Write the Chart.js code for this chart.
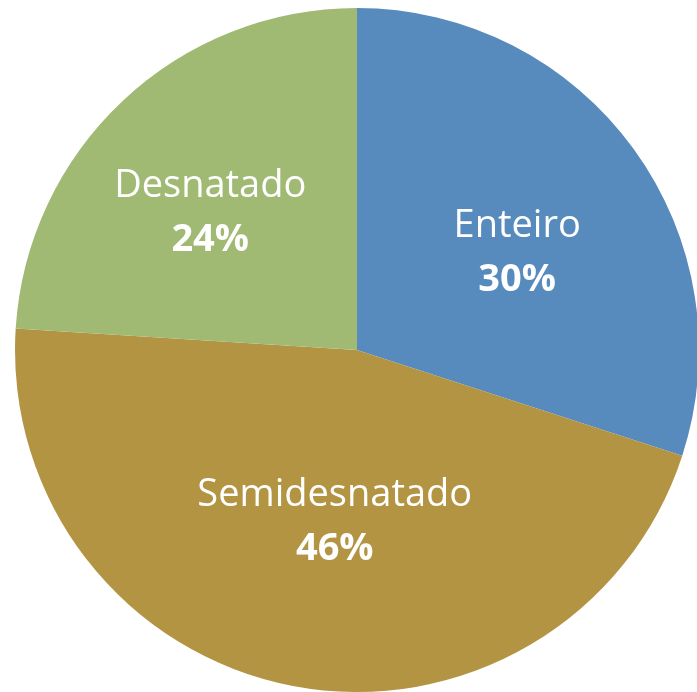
<!DOCTYPE html>
<html>
<head>
<meta charset="utf-8">
<script src="https://cdn.jsdelivr.net/npm/chart.js@4"></script>
<style>
  html, body { margin: 0; padding: 0; background: #fff; overflow: hidden; }
  #wrap { position: absolute; left: 0; top: 0; width: 700px; height: 692px; }
</style>
</head>
<body>
<div id="wrap"><canvas id="grafico_leite" width="700" height="692"></canvas></div>
<script>
const categorias = ['Enteiro', 'Semidesnatado', 'Desnatado'];
const percentuais = [30, 46, 24];
const cores = ['rgb(88, 139, 189)', 'rgb(179, 148, 66)', 'rgb(160, 186, 116)'];

// escreve nome + percentual dentro de cada fatia
const rotulos = {
  id: 'rotulos',
  afterDatasetsDraw(chart) {
    const ctx = chart.ctx;
    const meta = chart.getDatasetMeta(0);
    // pequenos ajustes de posição (estilo "melhor ajuste")
    const ajuste = [[8, 14], [13, -13], [-18, 0]];
    ctx.save();
    ctx.fillStyle = '#fff';
    ctx.textAlign = 'center';
    ctx.textBaseline = 'middle';
    meta.data.forEach((arc, i) => {
      const p = arc.getProps(['x', 'y', 'startAngle', 'endAngle', 'outerRadius']);
      const meio = (p.startAngle + p.endAngle) / 2;
      const r = p.outerRadius * 0.55;
      const x = p.x + Math.cos(meio) * r + ajuste[i][0];
      const y = p.y + Math.sin(meio) * r + ajuste[i][1];
      ctx.font = '38px "Open Sans"';
      ctx.fillText(categorias[i], x, y - 27);
      ctx.font = 'bold 38px "Open Sans"';
      ctx.fillText(percentuais[i] + '%', x, y + 27);
    });
    ctx.restore();
  }
};

new Chart(document.getElementById('grafico_leite'), {
  type: 'pie',
  data: {
    labels: categorias,
    datasets: [{
      data: percentuais,
      backgroundColor: cores,
      borderWidth: 0
    }]
  },
  options: {
    responsive: false,
    animation: false,
    layout: { padding: { left: 15, right: 1, top: 8, bottom: 0 } },
    plugins: {
      legend: { display: false },
      tooltip: { enabled: false }
    }
  },
  plugins: [rotulos]
});
</script>
</body>
</html>
